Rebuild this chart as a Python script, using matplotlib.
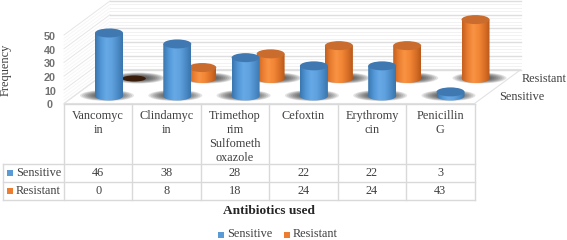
import numpy as np
import matplotlib
matplotlib.use('Agg')
import matplotlib.pyplot as plt
from matplotlib.colors import LinearSegmentedColormap
from matplotlib.patches import Ellipse, Polygon, Rectangle

antibiotics = ['Vancomyc\nin', 'Clindamyc\nin', 'Trimethop\nrim\nSulfometh\noxazole',
               'Cefoxtin', 'Erythromy\ncin', 'Penicillin\nG']
sensitive = [46, 38, 28, 22, 22, 3]
resistant = [0, 8, 18, 24, 24, 43]
series_names = ['Sensitive', 'Resistant']
y_ticks = [0, 10, 20, 30, 40, 50]

SERIF = 'Liberation Serif'
TEXT = '#404040'
GRID = '#d9d9d9'

# pixel geometry of the fake 3d box
x_first = 109
x_step = 68.3
x_depth = 25
y_base = 96
y_depth = 17.5
px_per_unit = 1.37
bar_w = 28
cap_h = 9
floor_front = 103.5
floor_back = 69.5
left = 64
right = 474.5
left_back = 110
right_back = 521

fig = plt.figure(figsize=(5.67, 2.40), dpi=100)
ax = fig.add_axes([0, 0, 1, 1])
ax.axis('off')


def bar_x(i, s):
    return x_first + i * x_step + s * x_depth


def bar_y(v, s):
    return y_base - s * y_depth - v * px_per_unit


# walls and floor
ax.add_patch(Polygon([(left, floor_front), (right, floor_front), (right_back, floor_back), (left_back, floor_back)],
                     fc='white', ec='#e2e2e2', lw=0.8, zorder=1))
for t in np.arange(0, 50.1, 2.5):
    major = t % 10 == 0
    yb = floor_back - t * px_per_unit
    yf = floor_front - t * px_per_unit
    c = '#dedede' if major else '#f2f2f2'
    lw = 1.0 if major else 0.7
    ax.plot([left_back, right_back], [yb, yb], color=c, lw=lw, zorder=1)
    ax.plot([left, left_back], [yf, yb], color='#e6e6e6' if major else '#f6f6f6', lw=0.7, zorder=1)

blue = LinearSegmentedColormap.from_list('b', ['#3a76ae', '#5296d6', '#66a9e6', '#5fa2df', '#4d8dc9', '#3a75ad'])
orange = LinearSegmentedColormap.from_list('o', ['#c4601f', '#ea7d30', '#f99343', '#f28737', '#dc7227', '#b9591b'])
maps = [blue, orange]
cap_colors = ['#4079b2', '#c96c2d']
grad = np.linspace(0, 1, 64).reshape(1, -1)


def draw_cylinder(i, s, v, z):
    cx = bar_x(i, s)
    y0 = bar_y(0, s)
    y1 = bar_y(v, s)
    # shadow on the floor
    for k in np.linspace(1, 0.4, 9):
        ax.add_patch(Ellipse((cx - 2 + s * 6, y0 - 0.5), 54 * k, 11 * k, fc='#2a2a2a', ec='none', alpha=0.13, zorder=z))
    if v == 0:
        ax.add_patch(Ellipse((cx, y0), bar_w * 0.85, 6, fc='#3a1c0a', ec='none', zorder=z + 1))
        return
    t = np.linspace(np.pi, 0, 40)
    xs = cx + bar_w / 2 * np.cos(t)
    bottom = y0 + cap_h / 2 * np.sin(t)
    outline = np.r_[np.c_[xs, bottom], [(cx + bar_w / 2, y1), (cx - bar_w / 2, y1)]]
    body = Polygon(outline, fc='none', ec='none', zorder=z + 1)
    ax.add_patch(body)
    im = ax.imshow(grad, cmap=maps[s], extent=[cx - bar_w / 2, cx + bar_w / 2, y0 + cap_h, y1],
                   aspect='auto', zorder=z + 1, interpolation='bilinear')
    im.set_clip_path(body)
    ax.add_patch(Ellipse((cx, y1), bar_w, cap_h, fc=cap_colors[s], ec='none', zorder=z + 2))


for i, v in enumerate(resistant):
    draw_cylinder(i, 1, v, 3 + i)
for i, v in enumerate(sensitive):
    draw_cylinder(i, 0, v, 20 + i)

# value axis labels
for t in y_ticks:
    ax.text(50, floor_front + 2 - t * px_per_unit, str(t), ha='center', va='center', fontsize=7.8,
            family='Liberation Sans', color='#595959', fontweight='bold', alpha=0.85)
ax.text(6, 70, 'Frequency', rotation=90, ha='center', va='center', fontsize=8.9, family=SERIF, color=TEXT)

# depth axis labels
for s, name in enumerate(series_names):
    ax.text(499 + s * 23, 97 - s * 18, name, ha='left', va='center', fontsize=8.8, family=SERIF, color=TEXT)

# data table
table_cols = [left + k * (right - left) / len(antibiotics) for k in range(len(antibiotics) + 1)]
row_lines = [104, 164, 182, 200]
row_left = 3
ax.plot([table_cols[0], table_cols[-1]], [row_lines[0], row_lines[0]], color=GRID, lw=1, zorder=40)
for y in row_lines[1:]:
    ax.plot([row_left, table_cols[-1]], [y, y], color=GRID, lw=1, zorder=40)
for x in table_cols:
    ax.plot([x, x], [row_lines[0], row_lines[-1]], color=GRID, lw=1, zorder=40)
ax.plot([row_left, row_left], [row_lines[1], row_lines[-1]], color=GRID, lw=1, zorder=40)

for i, label in enumerate(antibiotics):
    xc = (table_cols[i] + table_cols[i + 1]) / 2
    for j, line in enumerate(label.split('\n')):
        ax.text(xc, 116 + j * 14, line, ha='center', va='center', fontsize=8.8, family=SERIF, color=TEXT)
    ax.text(xc, 173.5, str(sensitive[i]), ha='center', va='center', fontsize=8.8, family=SERIF, color=TEXT)
    ax.text(xc, 191.5, str(resistant[i]), ha='center', va='center', fontsize=8.8, family=SERIF, color=TEXT)

key_colors = ['#5b9bd5', '#ed7d31']
for s, name in enumerate(series_names):
    yc = 173 + s * 18
    ax.add_patch(Rectangle((7, yc - 3), 6, 6, fc=key_colors[s], ec='none', zorder=41))
    ax.text(16, yc + 0.5, name, ha='left', va='center', fontsize=8.8, family=SERIF, color=TEXT)

ax.text(269, 211, 'Antibiotics used', ha='center', va='center', fontsize=9.6, family=SERIF,
        fontweight='bold', color='#262626')

# legend
for s, (name, kx) in enumerate(zip(series_names, [218, 284])):
    ax.add_patch(Rectangle((kx, 231.5), 6, 6, fc=key_colors[s], ec='none', zorder=41))
    ax.text(kx + 9, 234, name, ha='left', va='center', fontsize=8.8, family=SERIF, color=TEXT)

ax.set_xlim(0, 567)
ax.set_ylim(240, 0)
fig.savefig('out.png', dpi=100)
